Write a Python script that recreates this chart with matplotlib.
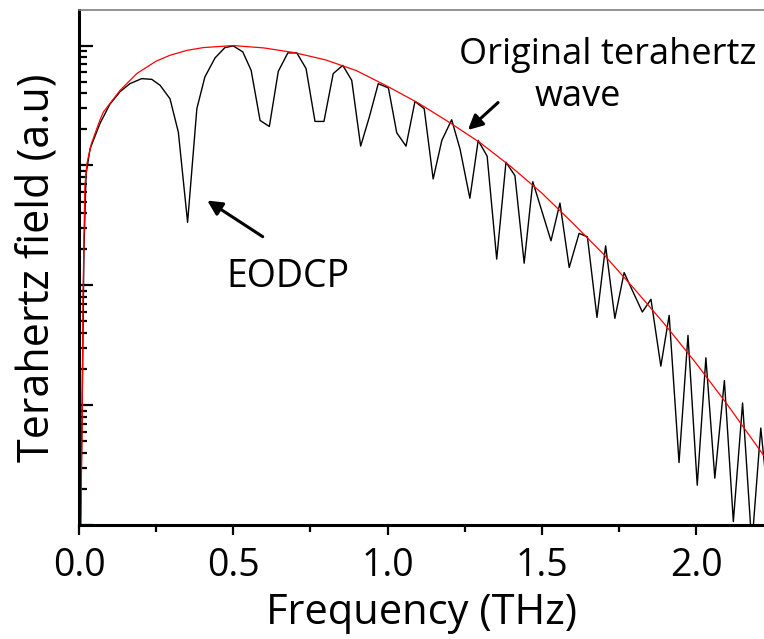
import numpy as np
import matplotlib
matplotlib.use("Agg")
import matplotlib.pyplot as plt

plt.rcParams['font.family'] = ['Open Sans', 'DejaVu Sans']

# measured EODCP spectrum (log10 of amplitude, normalised)
freq_eodcp = [0.0, 0.0097, 0.016, 0.023, 0.036, 0.068, 0.100, 0.133, 0.165, 0.203,
              0.236, 0.263, 0.295, 0.322, 0.352, 0.382, 0.408, 0.441, 0.473, 0.500,
              0.531, 0.558, 0.587, 0.617, 0.646, 0.677, 0.706, 0.736, 0.765, 0.794,
              0.824, 0.855, 0.884, 0.913, 0.941, 0.970, 1.003, 1.030, 1.060, 1.089,
              1.119, 1.148, 1.176, 1.208, 1.235, 1.267, 1.294, 1.323, 1.354, 1.384,
              1.413, 1.443, 1.471, 1.530, 1.559, 1.589, 1.621, 1.648, 1.679, 1.707,
              1.737, 1.767, 1.826, 1.854, 1.886, 1.913, 1.945, 1.974, 2.004, 2.032,
              2.061, 2.092, 2.121, 2.151, 2.181, 2.210, 2.240]
log_eodcp = [-5.0, -3.12, -1.70, -1.07, -0.86, -0.65, -0.49, -0.385, -0.318, -0.276,
             -0.282, -0.332, -0.444, -0.722, -1.475, -0.527, -0.262, -0.103, -0.017, -0.003,
             -0.053, -0.207, -0.625, -0.675, -0.215, -0.061, -0.061, -0.192, -0.633, -0.633,
             -0.234, -0.165, -0.290, -0.839, -0.597, -0.318, -0.354, -0.728, -0.839, -0.466,
             -0.527, -1.113, -0.792, -0.619, -0.862, -1.274, -0.792, -0.923, -1.782, -0.973,
             -1.085, -1.816, -1.136, -1.629, -1.314, -1.852, -1.567, -1.596, -2.268, -1.671,
             -2.276, -1.894, -2.223, -2.117, -2.675, -2.251, -3.479, -2.418, -3.668, -2.605,
             -3.609, -2.795, -3.972, -2.982, -4.17, -3.191, -3.96]

# original terahertz wave spectrum
freq_orig = [0.0, 0.010, 0.013, 0.019, 0.026, 0.040, 0.068, 0.079, 0.133, 0.187,
             0.25, 0.295, 0.35, 0.403, 0.5, 0.6, 0.7, 0.8, 0.9, 1.0,
             1.1, 1.2, 1.3, 1.4, 1.5, 1.6, 1.7, 1.8, 1.9, 2.0,
             2.1, 2.2, 2.25]
log_orig = [-5.0, -3.2, -2.1, -1.17, -0.98, -0.82, -0.62, -0.555, -0.374, -0.234,
            -0.13, -0.081, -0.04, -0.017, 0.0, -0.02, -0.06, -0.12, -0.21, -0.34,
            -0.48, -0.64, -0.81, -1.01, -1.23, -1.48, -1.74, -2.03, -2.33, -2.65,
            -2.99, -3.35, -3.53]

fig = plt.figure(figsize=(7.64, 6.39), dpi=100)
ax = fig.add_axes([79 / 764, 1 - 525 / 639, 1 - 79 / 764, 515 / 639])

ax.plot(freq_eodcp, 10 ** np.array(log_eodcp), color="black", lw=1.0)
ax.plot(freq_orig, 10 ** np.array(log_orig), color="red", lw=0.9)

ax.set_yscale("log")
ax.set_xlim(0, 2.2204)
ax.set_ylim(1e-4, 1.98)

ax.set_xticks([0.0, 0.5, 1.0, 1.5, 2.0])
ax.set_xticks([0.25, 0.75, 1.25, 1.75], minor=True)
ax.set_xticklabels(["0.0", "0.5", "1.0", "1.5", "2.0"])
ax.tick_params(axis="x", which="major", direction="out", length=7, width=1.6,
               labelsize=27, pad=9)
ax.tick_params(axis="x", which="minor", direction="out", length=5, width=1.6)
ax.tick_params(axis="y", which="major", direction="in", length=10, width=1.6,
               labelleft=False)
ax.tick_params(axis="y", which="minor", direction="in", length=6, width=1.6,
               labelleft=False)

ax.spines["left"].set_linewidth(2.2)
ax.spines["bottom"].set_linewidth(2.2)
ax.spines["top"].set_color("#808080")
ax.spines["top"].set_linewidth(1.2)
ax.spines["right"].set_visible(False)

ax.set_xlabel("Frequency (THz)", fontsize=30, labelpad=5)
ax.set_ylabel("Terahertz field (a.u)", fontsize=31, labelpad=14)

ax.text(1.715, 10 ** -0.08, "Original terahertz", fontsize=26, ha="center", va="center")
ax.text(1.617, 10 ** -0.43, "wave", fontsize=26, ha="center", va="center")
ax.annotate("", xy=(1.254, 10 ** -0.72), xytext=(1.365, 10 ** -0.46),
            arrowprops=dict(arrowstyle="-|>", color="black", lw=2.2, mutation_scale=22))

ax.text(0.677, 10 ** -1.93, "EODCP", fontsize=27, ha="center", va="center")
ax.annotate("", xy=(0.408, 10 ** -1.28), xytext=(0.603, 10 ** -1.607),
            arrowprops=dict(arrowstyle="-|>", color="black", lw=2.2, mutation_scale=22))

fig.savefig("out.png", dpi=100)
